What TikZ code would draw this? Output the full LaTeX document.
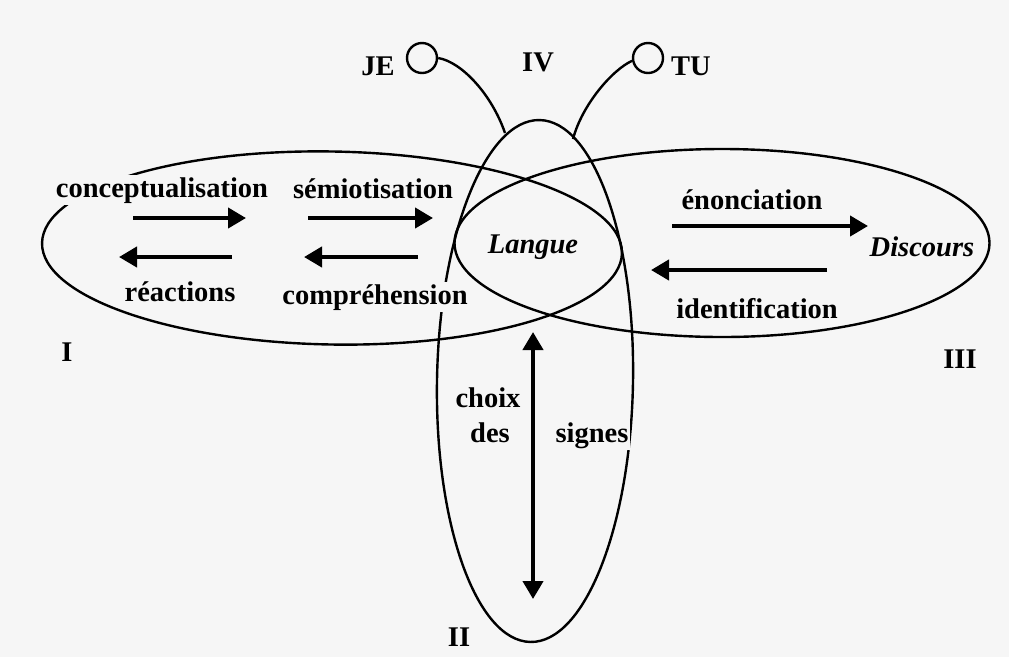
\documentclass[tikz,border=0pt]{standalone}
\usepackage{fontspec}
\setmainfont{Liberation Serif}
\usetikzlibrary{arrows.meta,shapes.geometric}
\definecolor{bg}{RGB}{246,246,246}
\begin{document}
\begin{tikzpicture}[x=1pt,y=-1pt,
  oval/.style={draw, line width=2.4pt, ellipse, inner sep=0pt},
  lbl/.style={font=\fontsize{28.5}{32}\selectfont\bfseries, anchor=base, inner sep=2pt, fill=bg},
  ilbl/.style={lbl, font=\fontsize{28.5}{32}\selectfont\bfseries\itshape},
  head/.tip={Triangle[length=18pt,width=20pt]},
  fat/.style={line width=4.2pt},
  thin/.style={line width=2.4pt},
  ring/.style={circle, draw, line width=2.4pt, minimum size=30pt, inner sep=0pt}
]
\fill[bg] (0,0) rectangle (1009,657);
\useasboundingbox (0,0) rectangle (1009,657);

% the three ellipses
\node[oval, minimum width=580pt, minimum height=193pt, rotate=-1] (elI) at (332,248) {};
\node[oval, minimum width=535pt, minimum height=188pt] (elIII) at (722,243) {};
\node[oval, minimum width=196pt, minimum height=522pt, rotate=-1] (elII) at (535,381) {};

% antennae
\node[ring] (je) at (422,58) {};
\node[ring] (tu) at (648,58) {};
\coordinate (jeEnd) at (505,133);
\coordinate (tuEnd) at (573,139);
\draw[thin] (je.east) .. controls (462,62) and (492,95) .. (jeEnd);
\draw[thin] (tu.190) .. controls (612,70) and (582,105) .. (tuEnd);

% labels
\node[lbl, fill=none] (tJE) at (378,75) {JE};
\node[lbl, fill=none] (tIV) at (538,71) {IV};
\node[lbl, fill=none] (tTU) at (691,75) {TU};
\node[lbl, fill=none] (tI) at (67,361) {I};
\node[lbl, fill=none] (tII) at (459,646) {II};
\node[lbl, fill=none] (tIII) at (960,368) {III};

\node[lbl] (concept) at (162,197) {conceptualisation};
\node[lbl] (semio) at (373,198) {sémiotisation};
\node[lbl] (react) at (180,301) {réactions};
\node[lbl] (compr) at (375,304) {compréhension};
\node[lbl] (enon) at (752,209) {énonciation};
\node[lbl] (ident) at (757,318) {identification};
\node[ilbl, fill=none] (langue) at (533,253) {Langue};
\node[ilbl, fill=none] (discours) at (922,256) {Discours};
\node[lbl] (choix) at (488,407) {choix};
\node[lbl] (des) at (490,442) {des};
\node[lbl] (signes) at (592,442) {signes};

% arrows
\coordinate (a1s) at (133,218); \coordinate (a1e) at (246,218);
\coordinate (a2s) at (232,257); \coordinate (a2e) at (119,257);
\coordinate (a3s) at (308,218); \coordinate (a3e) at (433,218);
\coordinate (a4s) at (418,257); \coordinate (a4e) at (304,257);
\coordinate (a5s) at (672,226); \coordinate (a5e) at (868,226);
\coordinate (a6s) at (827,270); \coordinate (a6e) at (651,270);
\coordinate (vTop) at (533,332); \coordinate (vBot) at (533,599);
\draw[fat,-head] (a1s) -- (a1e);
\draw[fat,-head] (a2s) -- (a2e);
\draw[fat,-head] (a3s) -- (a3e);
\draw[fat,-head] (a4s) -- (a4e);
\draw[fat,-head] (a5s) -- (a5e);
\draw[fat,-head] (a6s) -- (a6e);
\draw[fat,head-head] (vTop) -- (vBot);
\end{tikzpicture}
\end{document}
